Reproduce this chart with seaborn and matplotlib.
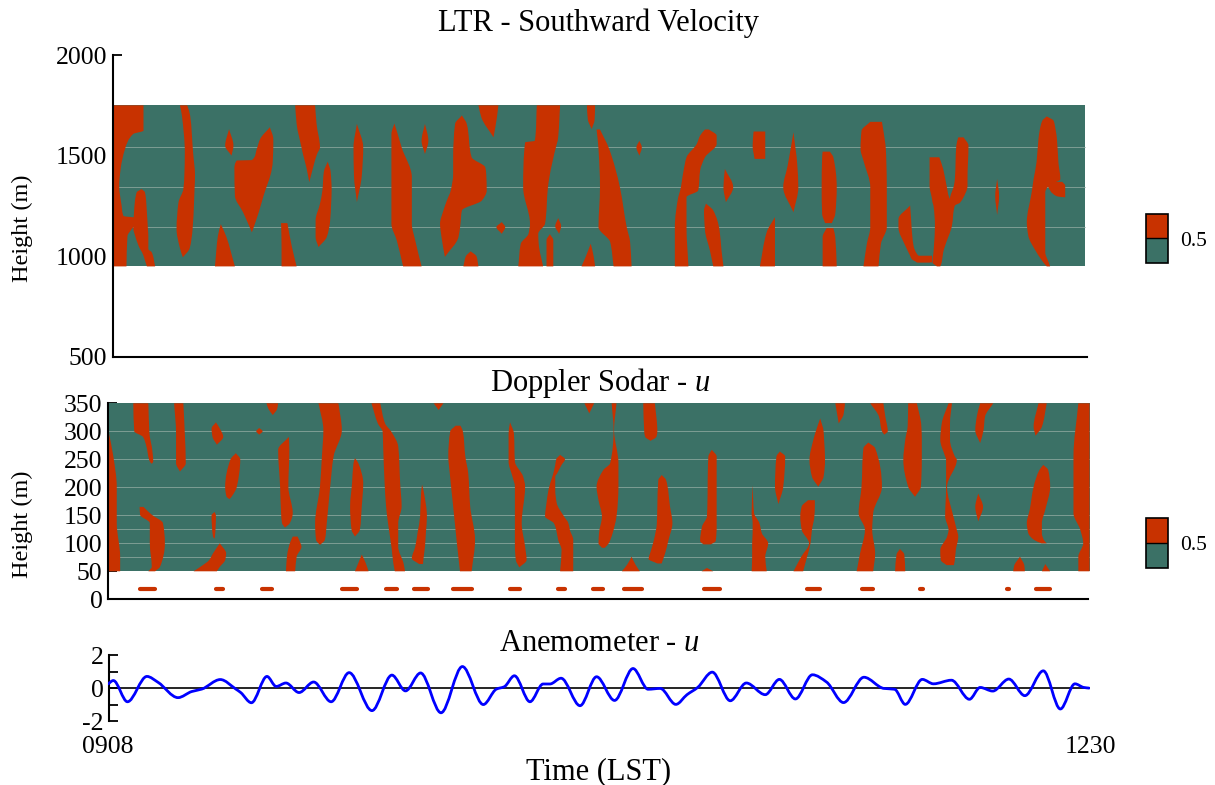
import numpy as np
import matplotlib
matplotlib.use("Agg")
import matplotlib.pyplot as plt
import seaborn as sns
from matplotlib.colors import ListedColormap, BoundaryNorm
from matplotlib.cm import ScalarMappable
from matplotlib.path import Path
from matplotlib.patches import PathPatch

# ---------------- data (time in minutes after 0908 LST) ----------------
time_ticks = [0, 202]
time_labels = ["0908", "1230"]

# LTR southward velocity: regions above 0.5 (height m, left t, right t)
ltr_extent = (1.0, 201.0, 950, 1750)
ltr_blobs = [
    [(1750, 1.0, 7.3), (1624, 1.0, 7.3), (1608, 1.0, 5.2), (1533, 1.0, 3.5), (1434, 1.0, 2.6), (1351, 1.0, 2.3),
     (1252, 1.0, 2.8), (1200, 1.0, 3.2), (1192, 1.0, 5.5), (1150, 1.0, 5.3), (1136, 1.0, 4.9), (1100, 1.0, 4.0),
     (950, 1.0, 3.8)],
    [(1334, 6.9, 6.9), (1318, 5.9, 7.6), (1218, 5.35, 8.0), (1140, 5.2, 8.2), (1100, 5.6, 8.3), (1036, 6.6, 8.3),
     (1020, 7.0, 9.0), (950, 8.0, 9.7)],
    [(1750, 14.8, 16.3), (1699, 15.2, 16.9), (1516, 15.8, 17.5), (1400, 15.7, 17.9), (1334, 15.5, 17.8),
     (1268, 14.5, 17.7), (1136, 14.1, 17.4), (1040, 14.8, 16.8), (995, 15.4, 15.4)],
    [(1632, 24.9, 24.9), (1550, 24.1, 25.8), (1500, 25.4, 25.4)],
    [(1641, 33.3, 33.3), (1583, 31.3, 34.0), (1533, 30.6, 34.0), (1478, 29.6, 33.9), (1476, 26.5, 33.9),
     (1434, 26.0, 33.7), (1301, 26.1, 32.0), (1218, 27.8, 31.0), (1119, 29.6, 29.6)],
    [(1160, 23.2, 23.2), (1100, 22.6, 24.3), (950, 22.0, 26.1)],
    [(1750, 38.5, 42.6), (1658, 38.8, 42.9), (1541, 39.8, 43.6), (1508, 40.1, 43.0), (1442, 40.8, 42.2),
     (1368, 41.4, 41.4)],
    [(1470, 45.2, 45.2), (1420, 44.4, 45.8), (1327, 44.1, 46.0), (1261, 43.6, 45.9), (1178, 42.7, 45.7),
     (1096, 42.7, 45.0), (1046, 43.3, 43.3)],
    [(1165, 35.6, 36.9), (1050, 35.7, 37.8), (950, 35.7, 38.8)],
    [(1658, 51.2, 51.2), (1541, 50.5, 52.5), (1400, 50.6, 52.2), (1269, 51.2, 51.2)],
    [(1660, 58.9, 58.9), (1607, 58.3, 59.6), (1541, 58.3, 60.4), (1393, 58.3, 62.5), (1162, 58.3, 62.5),
     (1079, 59.4, 63.2), (950, 60.7, 64.5)],
    [(1658, 65.2, 65.2), (1574, 64.5, 65.9), (1508, 65.2, 65.2)],
    [(1700, 72.8, 72.8), (1658, 71.4, 73.8), (1492, 71.0, 74.8), (1442, 71.0, 77.6), (1409, 71.0, 77.8),
     (1327, 70.5, 77.9), (1277, 69.7, 76.9), (1228, 69.0, 72.8), (1162, 68.3, 72.5), (1096, 68.6, 72.1),
     (997, 69.3, 69.3)],
    [(1750, 76.2, 80.3), (1690, 76.8, 80.0), (1591, 79.3, 79.3)],
    [(1025, 74.6, 74.6), (1000, 73.6, 75.8), (950, 73.1, 76.2)],
    [(1170, 81.0, 81.0), (1145, 79.9, 81.7), (1112, 81.0, 81.0)],
    [(1750, 88.2, 93.0), (1574, 87.8, 92.5), (1566, 85.8, 92.4), (1343, 85.4, 90.5), (1162, 86.8, 89.9),
     (1112, 86.5, 88.5), (1062, 84.9, 88.6), (950, 84.4, 89.5)],
    [(1110, 90.9, 90.9), (1080, 90.2, 91.6), (950, 90.2, 91.6)],
    [(1190, 92.6, 92.6), (1150, 92.0, 93.2), (1112, 92.8, 92.8)],
    [(1750, 98.5, 100.2), (1680, 98.7, 100.1), (1632, 99.5, 99.5)],
    [(1063, 99.3, 99.3), (1000, 98.3, 99.9), (950, 97.4, 100.2)],
    [(1630, 100.5, 101.2), (1533, 100.9, 103.1), (1343, 101.2, 105.3), (1145, 100.9, 106.7),
     (1071, 103.3, 107.4), (950, 104.0, 107.7)],
    [(1574, 109.3, 109.3), (1541, 108.7, 109.8), (1500, 109.3, 109.3)],
    [(1630, 122.8, 123.6), (1600, 121.8, 125.2), (1558, 121.1, 125.2), (1492, 119.0, 122.8),
     (1426, 118.4, 121.8), (1327, 117.7, 121.4), (1294, 117.3, 119.0), (1145, 116.6, 119.0),
     (950, 116.6, 119.4)],
    [(1262, 123.0, 123.0), (1228, 122.6, 124.5), (1129, 122.8, 125.8), (1030, 123.8, 126.2), (950, 124.5, 126.6)],
    [(1434, 126.9, 126.9), (1343, 126.6, 128.6), (1269, 127.1, 127.1)],
    [(1620, 132.8, 135.2), (1550, 132.6, 135.2), (1484, 133.0, 135.2)],
    [(1616, 141.0, 141.0), (1450, 139.8, 141.8), (1343, 138.9, 142.0), (1219, 141.0, 141.0)],
    [(1195, 137.2, 137.2), (1120, 135.5, 137.2), (950, 134.1, 137.2)],
    [(1520, 147.0, 148.5), (1492, 146.9, 149.2), (1343, 146.8, 149.9), (1211, 146.9, 149.6), (1165, 147.5, 148.9)],
    [(1140, 147.8, 149.2), (1096, 147.0, 149.6), (950, 147.0, 149.9)],
    [(1668, 156.8, 159.2), (1624, 155.0, 159.5), (1533, 154.8, 160.0), (1475, 155.4, 160.1),
     (1343, 156.8, 160.2), (1145, 156.8, 160.2), (1063, 156.1, 159.0), (950, 155.4, 158.5)],
    [(1252, 165.0, 165.0), (1185, 162.6, 165.2), (1144, 162.6, 165.3), (1053, 164.0, 165.7),
     (1003, 165.0, 166.7), (987, 165.3, 168.0), (970, 166.4, 169.1)],
    [(1003, 165.5, 169.5), (970, 166.4, 169.5)],
    [(1492, 169.0, 171.0), (1434, 169.0, 171.8), (1351, 169.0, 172.5), (1285, 169.5, 173.2),
     (1268, 169.6, 175.3), (1252, 169.8, 174.2), (1152, 170.1, 173.6), (1053, 169.9, 172.2),
     (1020, 169.8, 171.8), (970, 169.6, 171.5), (950, 170.5, 171.2)],
    [(1591, 174.9, 176.0), (1550, 174.5, 177.0), (1384, 174.2, 176.8), (1351, 174.0, 176.8),
     (1285, 173.2, 175.8), (1268, 173.5, 175.3)],
    [(1384, 182.9, 182.9), (1300, 182.5, 183.3), (1205, 182.9, 182.9)],
    [(1695, 193.1, 193.1), (1674, 192.2, 194.5), (1632, 191.7, 194.9), (1583, 191.4, 195.2),
     (1467, 191.0, 195.5), (1384, 190.4, 195.9), (1351, 190.2, 193.5), (1318, 190.0, 192.8),
     (1169, 189.0, 192.8), (1103, 189.3, 192.8), (1020, 191.0, 192.8), (970, 192.4, 193.5), (950, 193.1, 193.8)],
    [(1370, 193.0, 196.3), (1351, 193.3, 196.9), (1298, 195.2, 196.9), (1293, 196.9, 196.9)],
]

# Doppler sodar u: regions above 0.5
sodar_extent = (0.0, 201.9, 50, 350)
sodar_blobs = [
    [(300, 0, 0.1), (255, 0, 1.1), (201, 0, 1.8), (136, 0, 1.8), (76, 0, 2.5), (50, 0, 2.5)],
    [(350, 5.2, 8.3), (300, 5.4, 8.5), (290, 7.2, 8.6), (273, 7.9, 9.0), (246, 8.6, 9.3), (242, 9.0, 9.0)],
    [(165, 6.5, 7.3), (151, 6.6, 9.0), (136, 8.6, 11.3), (100, 8.6, 11.7), (58, 9.0, 10.7), (50, 8.3, 9.7)],
    [(350, 13.6, 15.5), (296, 14.0, 15.8), (243, 14.0, 16.0), (228, 14.8, 14.8)],
    [(316, 22.2, 22.2), (305, 21.3, 23.0), (290, 21.5, 23.7), (276, 22.4, 22.4)],
    [(306, 31.1, 31.1), (300, 30.5, 31.8), (294, 31.1, 31.1)],
    [(350, 32.6, 35.0), (340, 33.0, 34.8), (329, 33.9, 33.9)],
    [(261, 26.3, 26.3), (250, 25.2, 27.2), (201, 24.1, 26.5), (183, 24.4, 25.4), (179, 25.0, 25.0)],
    [(156, 21.9, 21.9), (150, 21.3, 22.2), (112, 21.6, 22.0), (108, 21.9, 21.9)],
    [(100, 23.0, 23.0), (82, 21.6, 24.3), (70, 20.8, 24.1), (58, 19.0, 23.0), (50, 17.6, 22.4)],
    [(290, 37.2, 37.2), (267, 35.0, 37.3), (201, 35.4, 37.1), (154, 35.6, 38.0), (136, 35.8, 37.4), (128, 36.4, 36.4)],
    [(112, 38.0, 39.0), (100, 37.4, 39.6), (94, 37.2, 39.8), (76, 36.8, 38.8), (50, 36.6, 38.5)],
    [(350, 43.3, 47.4), (302, 44.3, 48.1), (255, 44.0, 46.4), (201, 43.6, 45.7), (136, 42.6, 45.0),
     (106, 42.8, 44.6), (97, 43.6, 43.6)],
    [(252, 50.8, 50.8), (243, 50.5, 51.5), (207, 50.2, 52.5), (166, 49.8, 52.2), (124, 50.1, 51.8), (112, 50.8, 50.8)],
    [(80, 52.2, 52.2), (65, 51.5, 53.0), (50, 50.8, 53.6)],
    [(350, 54.2, 56.0), (314, 55.5, 57.0), (299, 56.5, 58.3), (273, 56.6, 59.7), (207, 56.9, 60.1),
     (166, 57.2, 60.4), (136, 57.6, 59.7), (94, 58.3, 59.7), (64, 58.7, 60.8), (50, 59.0, 61.1)],
    [(205, 64.6, 64.6), (190, 64.4, 65.0), (148, 64.2, 65.6), (120, 63.7, 65.4), (94, 63.2, 65.2),
     (73, 62.5, 64.9), (63, 64.0, 64.8)],
    [(350, 67.0, 69.0), (338, 68.0, 68.0)],
    [(310, 71.5, 72.5), (300, 70.4, 73.0), (255, 70.0, 73.5), (225, 70.3, 74.1), (166, 71.0, 74.5),
     (106, 71.7, 75.5), (50, 72.4, 74.8)],
    [(316, 82.7, 82.7), (296, 82.4, 83.5), (246, 82.4, 83.7), (219, 83.2, 85.4), (201, 83.7, 85.8),
     (136, 83.7, 85.1), (94, 83.7, 85.8), (70, 83.9, 86.1), (57, 84.6, 84.6)],
    [(258, 93.0, 93.0), (250, 92.2, 94.0), (240, 92.0, 93.3), (225, 91.6, 92.4), (219, 91.4, 92.0),
     (195, 90.6, 92.0), (172, 90.2, 92.3), (148, 89.9, 93.8), (136, 91.7, 94.7), (124, 92.2, 95.0),
     (106, 92.6, 95.7), (88, 93.3, 95.7), (50, 93.0, 95.7)],
    [(350, 98.0, 100.0), (332, 99.0, 99.0)],
    [(350, 103.6, 104.6), (302, 104.0, 104.1), (243, 103.3, 105.0), (231, 101.9, 105.0), (201, 100.5, 105.0),
     (177, 100.9, 104.9), (148, 101.6, 104.6), (118, 101.0, 103.8), (100, 100.9, 103.0), (92, 101.6, 102.2)],
    [(350, 110.1, 112.5), (300, 110.3, 113.0), (290, 110.5, 112.8), (283, 111.6, 111.6)],
    [(222, 113.9, 113.9), (213, 113.2, 114.8), (166, 113.0, 115.6), (136, 112.9, 116.1), (106, 112.3, 115.3),
     (82, 111.5, 114.6), (72, 111.2, 114.2), (64, 113.0, 113.9)],
    [(76, 107.7, 107.7), (62, 106.8, 108.5), (50, 105.7, 109.4)],
    [(267, 124.2, 124.2), (255, 123.5, 125.2), (148, 123.2, 125.2), (130, 122.2, 125.2), (104, 121.8, 125.0),
     (98, 122.5, 124.0)],
    [(56, 123.2, 123.2), (50, 122.1, 124.5)],
    [(204, 132.6, 132.6), (154, 132.4, 132.9), (136, 132.6, 134.0), (118, 132.6, 134.5), (100, 132.5, 135.8),
     (76, 132.5, 135.2), (50, 132.4, 135.5)],
    [(264, 138.2, 138.2), (255, 137.5, 139.3), (201, 137.2, 138.9), (170, 137.9, 137.9)],
    [(177, 144.0, 145.4), (166, 142.7, 145.4), (148, 142.4, 145.3), (124, 142.7, 144.8), (100, 144.2, 144.5),
     (76, 142.6, 143.8), (50, 141.0, 143.0)],
    [(323, 146.5, 146.5), (300, 145.6, 147.2), (285, 145.1, 147.3), (249, 144.3, 147.5), (219, 144.8, 147.2),
     (201, 146.1, 146.1)],
    [(350, 149.6, 151.6), (330, 150.0, 151.3), (314, 150.3, 150.3)],
    [(280, 156.4, 156.4), (270, 155.4, 157.8), (201, 155.0, 159.2), (154, 154.4, 157.4), (124, 155.7, 157.2),
     (82, 154.7, 157.8), (50, 154.0, 157.4)],
    [(350, 156.8, 159.5), (326, 158.6, 159.9), (300, 159.2, 160.4), (294, 159.7, 159.7)],
    [(90, 162.9, 162.9), (80, 162.2, 163.8), (50, 161.9, 164.0)],
    [(350, 164.6, 166.4), (310, 164.5, 167.3), (285, 164.0, 167.4), (249, 163.6, 167.4), (201, 164.6, 167.2),
     (183, 166.0, 166.0)],
    [(350, 172.9, 173.6), (314, 171.5, 173.2), (285, 171.2, 173.2), (255, 172.2, 174.2), (249, 172.4, 174.6),
     (201, 172.4, 172.6), (148, 172.2, 173.9), (124, 172.9, 174.6), (112, 172.6, 174.9), (88, 171.2, 174.4),
     (70, 171.3, 174.2), (61, 172.5, 174.0)],
    [(350, 179.4, 182.1), (326, 178.7, 180.4), (302, 178.4, 180.1), (279, 179.4, 179.4)],
    [(189, 179.0, 179.0), (165, 178.4, 180.0), (139, 179.0, 179.0)],
    [(240, 192.4, 192.4), (231, 191.6, 193.4), (201, 190.4, 193.8), (160, 189.6, 192.8), (136, 189.0, 192.1),
     (118, 189.3, 192.1), (106, 190.5, 192.5), (100, 192.0, 193.1)],
    [(350, 191.4, 193.1), (308, 190.4, 192.1), (292, 190.8, 190.8)],
    [(76, 187.6, 187.6), (60, 186.4, 188.5), (50, 186.2, 188.6)],
    [(63, 192.8, 192.8), (50, 192.1, 193.8)],
    [(350, 199.6, 201.9), (255, 198.6, 201.9), (154, 198.6, 201.9), (124, 200.0, 201.9), (100, 200.6, 201.9),
     (76, 199.6, 201.9), (50, 199.6, 201.9)],
]

# sodar lowest gate (~18 m): intervals above 0.5
surface_height = 18
surface_start = [6.6, 22.2, 31.6, 48.1, 57.2, 63.0, 70.9, 82.7, 92.6, 99.8, 106.2, 122.6, 143.7, 155.0, 167.0, 185.0, 190.9]
surface_end = [9.7, 23.6, 33.7, 51.3, 59.5, 65.8, 74.8, 84.8, 94.0, 101.8, 109.8, 125.8, 146.5, 157.3, 167.7, 185.4, 193.7]

# anemometer u (m/s): turning points of the trace
anem_time = [0.0, 1.1, 4.0, 8.0, 10.3, 14.4, 17.2, 19.3, 23.1, 26.3, 27.3, 29.5, 32.7, 34.6, 36.6, 39.3,
             42.3, 45.9, 49.6, 54.3, 58.4, 61.2, 64.3, 68.5, 72.9, 77.2, 79.9, 81.5, 83.6, 86.8, 89.5, 90.9,
             93.2, 97.1, 100.5, 104.2, 108.0, 111.1, 113.6, 116.8, 119.1, 121.3, 124.3, 128.0, 131.3, 135.2,
             138.1, 141.4, 144.9, 147.8, 151.3, 155.5, 159.6, 161.8, 164.0, 167.5, 169.8, 173.5, 177.2, 179.4,
             182.0, 185.3, 188.6, 192.4, 195.9, 198.9, 200.7, 201.8]
anem_u = [0.25, 0.46, -0.83, 0.71, 0.35, -0.58, -0.21, -0.06, 0.52, -0.06, -0.27, -0.89, 0.71, 0.10, 0.31, -0.27,
          0.37, -0.83, 0.94, -1.37, 0.79, -0.17, 0.92, -1.50, 1.31, -1.00, -0.06, 0.08, 0.75, -0.83, 0.25, 0.25,
          0.60, -1.07, 0.69, -0.75, 1.19, -0.07, -0.02, -0.99, -0.40, 0.04, 0.97, -0.77, 0.31, -0.40,
          0.53, -0.66, 0.81, 0.37, -0.88, 0.66, -0.02, -0.07, -0.99, 0.53, 0.26, 0.48, -0.68, 0.04,
          -0.18, 0.55, -0.46, 1.05, -1.27, 0.26, 0.04, 0.0]

ltr_seams = [1545, 1346, 1148]
sodar_seams = [300, 250, 200, 150, 125, 100, 75]

RED = "#C83200"
GREEN = "#3B7166"
SEAM = "#7E9E94"

# ---------------- styling ----------------
sns.set_theme(style="white")
plt.rcParams["font.family"] = ["Liberation Serif", "DejaVu Serif"]
plt.rcParams["mathtext.fontset"] = "custom"
plt.rcParams["mathtext.rm"] = "Liberation Serif"
plt.rcParams["mathtext.it"] = "Liberation Serif:italic"
for key in ("text.color", "axes.labelcolor", "xtick.color", "ytick.color"):
    plt.rcParams[key] = "black"

W, H = 1215, 785
fig = plt.figure(figsize=(W / 100, H / 100), dpi=100)


def box(x0, y0, x1, y1):
    return [x0 / W, 1 - y1 / H, (x1 - x0) / W, (y1 - y0) / H]


def fx(px):
    return px / W


def fy(py):
    return 1 - py / H


def pchip_slopes(s, v):
    ds = np.diff(s)
    d = np.diff(v) / ds
    m = np.zeros_like(v)
    for k in range(1, len(s) - 1):
        if d[k - 1] * d[k] > 0:
            w1 = 2 * ds[k] + ds[k - 1]
            w2 = ds[k] + 2 * ds[k - 1]
            m[k] = (w1 + w2) / (w1 / d[k - 1] + w2 / d[k])
    m[0], m[-1] = d[0], d[-1]
    return ds, m


def curve_segments(s, v, swap):
    """Bezier segments of a smooth curve v(s); vertices returned as (x, y)."""
    ds, m = pchip_slopes(s, v)
    out = []
    for k in range(len(s) - 1):
        pts = [(s[k] + ds[k] / 3, v[k] + m[k] * ds[k] / 3),
               (s[k + 1] - ds[k] / 3, v[k + 1] - m[k + 1] * ds[k] / 3),
               (s[k + 1], v[k + 1])]
        out += [(b, a) for a, b in pts] if swap else pts
    return out


def blob_path(blob):
    b = np.array(blob, dtype=float)
    h, lft, rgt = b[:, 0], b[:, 1], b[:, 2]
    verts = [(lft[0], h[0])]
    codes = [Path.MOVETO]
    seg = curve_segments(h, lft, swap=True)
    verts += seg
    codes += [Path.CURVE4] * len(seg)
    verts.append((rgt[-1], h[-1]))
    codes.append(Path.LINETO)
    seg = curve_segments(h[::-1], rgt[::-1], swap=True)
    verts += seg
    codes += [Path.CURVE4] * len(seg)
    verts.append((lft[0], h[0]))
    codes.append(Path.CLOSEPOLY)
    return Path(verts, codes)


X0, X1 = 108, 1090
TICK = 18.5
ax1 = fig.add_axes(box(X0, 55, X1, 357))
ax2 = fig.add_axes(box(X0, 403.3, X1, 599.3))
ax3 = fig.add_axes(box(X0, 655.2, X1, 721.0))
for ax in (ax1, ax2, ax3):
    ax.set_xlim(time_ticks[0], time_ticks[1])
    ax.set_facecolor("none")
    for s in ("top", "right"):
        ax.spines[s].set_visible(False)
    for s in ("left", "bottom"):
        ax.spines[s].set_color("black")
        ax.spines[s].set_linewidth(1.5)
    ax.tick_params(axis="y", direction="in", length=6.5, width=1.3, labelsize=TICK, pad=4,
                   left=True, colors="black")


def draw_field(ax, extent, blobs, seams):
    t0, t1, h0, h1 = extent
    ax.fill_between([t0, t1], [h0, h0], [h1, h1], color=GREEN, lw=0, zorder=1)
    ax.hlines(seams, t0, t1, colors=SEAM, lw=0.7, zorder=1.5)
    for blob in blobs:
        ax.add_patch(PathPatch(blob_path(blob), facecolor=RED, edgecolor="none", lw=0, zorder=2))


# Panel 1 : LTR
draw_field(ax1, ltr_extent, ltr_blobs, ltr_seams)
ax1.set_ylim(500, 2000)
ax1.set_yticks([500, 1000, 1500, 2000])
ax1.set_xticks([])
ax1.spines["left"].set_position(("data", ltr_extent[0]))
ax1.spines["bottom"].set_bounds(ltr_extent[0], 201.4)

# Panel 2 : Sodar
draw_field(ax2, sodar_extent, sodar_blobs, sodar_seams)
ax2.hlines([surface_height] * len(surface_start), surface_start, surface_end, colors=RED, lw=3.0,
           capstyle="round", zorder=2)
ax2.set_ylim(0, 350)
ax2.set_yticks(np.arange(0, 351, 50))
ax2.set_xticks([])
ax2.spines["bottom"].set_bounds(0, 201.6)

# Panel 3 : Anemometer
x = np.asarray(anem_time, float)
y = np.asarray(anem_u, float)
verts = [(x[0], y[0])]
segs = curve_segments(x, y, swap=False)
verts += segs
codes = [Path.MOVETO] + [Path.CURVE4] * len(segs)
sns.lineplot(x=[0.2, 202], y=[0, 0], ax=ax3, color="black", lw=1.2, zorder=2)
ax3.add_patch(PathPatch(Path(verts, codes), facecolor="none", edgecolor="#0000FF", lw=2.0,
                        capstyle="round", joinstyle="round", zorder=3))
ax3.set_ylim(-2, 2)
ax3.set_yticks([-2, -1, 0, 1, 2])
ax3.set_yticklabels(["-2", "", "0", "", "2"])
ax3.spines["bottom"].set_visible(False)
ax3.spines["left"].set_position(("data", 0.2))
ax3.set_xticks(time_ticks)
ax3.set_xticklabels(time_labels)
ax3.tick_params(axis="x", length=0, labelsize=TICK, pad=11, colors="black")
ax3.set_xlabel("")
ax3.set_ylabel("")

# titles and labels
TS = 22
fig.text(fx(599), fy(31), "LTR - Southward Velocity", ha="center", va="baseline", fontsize=TS)
fig.text(fx(600), fy(391), "Doppler Sodar - $u$", ha="center", va="baseline", fontsize=TS)
fig.text(fx(599), fy(651), "Anemometer - $u$", ha="center", va="baseline", fontsize=TS)
fig.text(fx(599), fy(779), "Time (LST)", ha="center", va="baseline", fontsize=TS)
fig.text(fx(22), fy(228), "Height (m)", ha="center", va="center", rotation=90, fontsize=17.5)
fig.text(fx(22), fy(524), "Height (m)", ha="center", va="center", rotation=90, fontsize=17.5)

# colour bars
cmap = ListedColormap([GREEN, RED])
norm = BoundaryNorm([0, 0.5, 1], 2)
for (ya, yb) in ((214, 263), (518, 568)):
    cax = fig.add_axes(box(1146, ya, 1168, yb))
    cb = fig.colorbar(ScalarMappable(norm=norm, cmap=cmap), cax=cax, ticks=[0.5])
    cb.minorticks_off()
    cb.outline.set_linewidth(1.2)
    cb.outline.set_edgecolor("black")
    cax.axhline(0.5, color="black", lw=1.0)
    cax.tick_params(which="both", length=0, labelsize=15.5, pad=9, colors="black")
    cb.set_ticklabels(["0.5"])

fig.savefig("out.png", dpi=100)
